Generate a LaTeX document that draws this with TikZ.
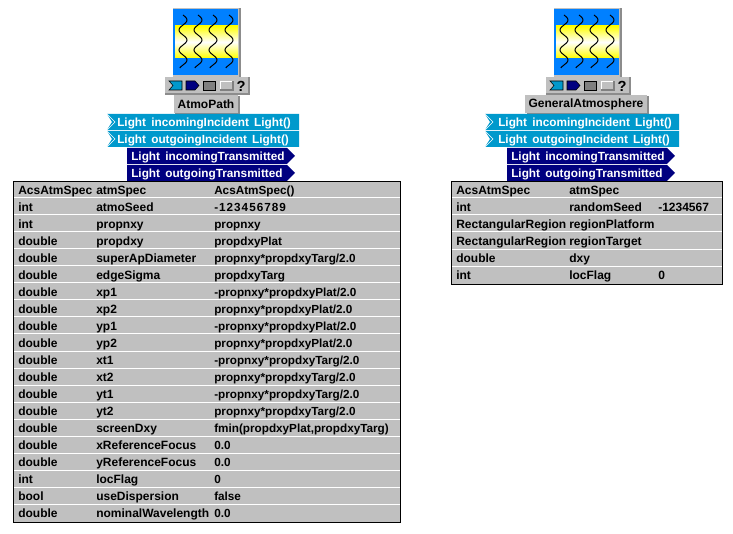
\documentclass[tikz,border=0pt]{standalone}
\usepackage{fontspec}
\setmainfont{Liberation Sans}
\usepackage{tikz}
\definecolor{portin}{RGB}{0,153,204}
\definecolor{portout}{RGB}{0,0,128}
\definecolor{panel}{RGB}{192,192,192}
\definecolor{shadow}{RGB}{140,140,140}
\definecolor{skyblue}{RGB}{0,128,255}
\newcommand{\gap}{\hspace{3.9pt}}
\begin{document}
\begin{tikzpicture}[x=0.75pt,y=-0.75pt]
		\tikzset{cell/.style={anchor=base west,inner sep=0pt,font=\bfseries\fontsize{9pt}{10pt}\selectfont}};
		\tikzset{valuecell/.style={anchor=base west,inner sep=0pt,font=\bfseries\fontsize{8.8pt}{10pt}\selectfont}};
		\tikzset{porttext/.style={anchor=base west,inner sep=0pt,text=white,font=\bfseries\fontsize{8.85pt}{10pt}\selectfont}};
		\tikzset{namebox/.style={fill=panel,inner sep=0pt,font=\bfseries\fontsize{9pt}{10pt}\selectfont}};
		\tikzset{rowline/.style={white,line width=0.75pt}};
		\tikzset{atmoicon/.pic={
			\fill[panel] (0,-1) rectangle (68,69);
			\fill[shadow] (66,-1) rectangle (68,69);
			\fill[skyblue] (0,0) rectangle (65,66);
			\shade[top color=yellow,bottom color=yellow,middle color=white] (2,17) rectangle (65,49);
			\foreach \i in {10,25,40,56} {
				\draw[black,line width=0.75pt] plot[domain=0:53,samples=60,smooth] ({\i+4*sin(\x*18)},{6+\x});
			}
			\fill[panel] (-8,68) rectangle (76,85);
			\fill[shadow] (-8,84) rectangle (76,86);
			\fill[shadow] (75,68) rectangle (77,86);
			\draw[black,fill=portin] (-4,72) -- (9,72) -- (9,81) -- (-4,81) -- (0,76.5) -- cycle;
			\draw[black,fill=portout] (13,72) -- (22,72) -- (26,76.5) -- (22,81) -- (13,81) -- cycle;
			\draw[black,fill=gray] (30,72) rectangle (42,81);
			\draw[white,fill=panel] (47,72) rectangle (60,81);
			\draw[gray,line width=1pt] (47,81) -- (60,81) -- (60,72);
			\node[namebox,fill=none,font=\bfseries\fontsize{11pt}{12pt}\selectfont] (help) at (68,77.5) {?};
		}};

		% left component
		\pic at (173,9) {atmoicon};
		\fill[shadow] (175,96) rectangle (240,114);
		\node[namebox,minimum width=48pt,minimum height=13.5pt] (pathname) at (206,104) {AtmoPath};

		\fill[portin] (107,114) -- (299,114) -- (299,130) -- (107,130) -- (112,122) -- cycle;
		\fill[portin] (107,131) -- (299,131) -- (299,147) -- (107,147) -- (112,139) -- cycle;
		\draw[white] (107,114) -- (115,122) -- (107,130);
		\draw[white] (107,131) -- (115,139) -- (107,147);
		\fill[portout] (127,148) -- (287,148) -- (295,156) -- (287,164) -- (127,164) -- cycle;
		\fill[portout] (127,165) -- (287,165) -- (295,173) -- (287,181) -- (127,181) -- cycle;
		\node[porttext] (pin1) at (117,127) {Light\gap incomingIncident\gap Light()};
		\node[porttext] (pin2) at (117,144) {Light\gap outgoingIncident\gap Light()};
		\node[porttext] (pout1) at (131,161) {Light\gap incomingTransmitted};
		\node[porttext] (pout2) at (131,178) {Light\gap outgoingTransmitted};

		\draw[black,fill=panel] (13.5,181.5) rectangle (400.5,522.5);
		\foreach \y in {198,215,232,249,266,283,300,317,334,352,369,386,403,420,437,454,471,488,505} {
			\draw[rowline] (14,\y) -- (400,\y);
		}
		\node[cell] (a1) at (18,195) {AcsAtmSpec};
		\node[cell] (b1) at (96,195) {atmSpec};
		\node[valuecell] (c1) at (214,195) {AcsAtmSpec()};
		\node[cell] (a2) at (18,212) {int};
		\node[cell] (b2) at (96,212) {atmoSeed};
		\node[valuecell] (c2) at (214,212) {\addfontfeature{LetterSpace=8.5}-123456789};
		\node[cell] (a3) at (18,229) {int};
		\node[cell] (b3) at (96,229) {propnxy};
		\node[valuecell] (c3) at (214,229) {propnxy};
		\node[cell] (a4) at (18,246) {double};
		\node[cell] (b4) at (96,246) {propdxy};
		\node[valuecell] (c4) at (214,246) {propdxyPlat};
		\node[cell] (a5) at (18,263) {double};
		\node[cell] (b5) at (96,263) {superApDiameter};
		\node[valuecell] (c5) at (214,263) {propnxy*propdxyTarg/2.0};
		\node[cell] (a6) at (18,280) {double};
		\node[cell] (b6) at (96,280) {edgeSigma};
		\node[valuecell] (c6) at (214,280) {propdxyTarg};
		\node[cell] (a7) at (18,297) {double};
		\node[cell] (b7) at (96,297) {xp1};
		\node[valuecell] (c7) at (214,297) {-propnxy*propdxyPlat/2.0};
		\node[cell] (a8) at (18,314) {double};
		\node[cell] (b8) at (96,314) {xp2};
		\node[valuecell] (c8) at (214,314) {propnxy*propdxyPlat/2.0};
		\node[cell] (a9) at (18,331) {double};
		\node[cell] (b9) at (96,331) {yp1};
		\node[valuecell] (c9) at (214,331) {-propnxy*propdxyPlat/2.0};
		\node[cell] (a10) at (18,348) {double};
		\node[cell] (b10) at (96,348) {yp2};
		\node[valuecell] (c10) at (214,348) {propnxy*propdxyPlat/2.0};
		\node[cell] (a11) at (18,365) {double};
		\node[cell] (b11) at (96,365) {xt1};
		\node[valuecell] (c11) at (214,365) {-propnxy*propdxyTarg/2.0};
		\node[cell] (a12) at (18,382) {double};
		\node[cell] (b12) at (96,382) {xt2};
		\node[valuecell] (c12) at (214,382) {propnxy*propdxyTarg/2.0};
		\node[cell] (a13) at (18,399) {double};
		\node[cell] (b13) at (96,399) {yt1};
		\node[valuecell] (c13) at (214,399) {-propnxy*propdxyTarg/2.0};
		\node[cell] (a14) at (18,416) {double};
		\node[cell] (b14) at (96,416) {yt2};
		\node[valuecell] (c14) at (214,416) {propnxy*propdxyTarg/2.0};
		\node[cell] (a15) at (18,433) {double};
		\node[cell] (b15) at (96,433) {screenDxy};
		\node[valuecell] (c15) at (214,433) {fmin(propdxyPlat,propdxyTarg)};
		\node[cell] (a16) at (18,450) {double};
		\node[cell] (b16) at (96,450) {xReferenceFocus};
		\node[valuecell] (c16) at (214,450) {0.0};
		\node[cell] (a17) at (18,467) {double};
		\node[cell] (b17) at (96,467) {yReferenceFocus};
		\node[valuecell] (c17) at (214,467) {0.0};
		\node[cell] (a18) at (18,484) {int};
		\node[cell] (b18) at (96,484) {locFlag};
		\node[valuecell] (c18) at (214,484) {0};
		\node[cell] (a19) at (18,501) {bool};
		\node[cell] (b19) at (96,501) {useDispersion};
		\node[valuecell] (c19) at (214,501) {false};
		\node[cell] (a20) at (18,518) {double};
		\node[cell] (b20) at (96,518) {nominalWavelength};
		\node[valuecell] (c20) at (214,518) {0.0};

		% right component
		\pic at (554,9) {atmoicon};
		\fill[shadow] (527,96) rectangle (649,114);
		\node[namebox,minimum width=91.5pt,minimum height=13.5pt] (genname) at (586,104) {GeneralAtmosphere};

		\fill[portin] (485,114) -- (679,114) -- (679,130) -- (485,130) -- (490,122) -- cycle;
		\fill[portin] (485,131) -- (679,131) -- (679,147) -- (485,147) -- (490,139) -- cycle;
		\draw[white] (485,114) -- (493,122) -- (485,130);
		\draw[white] (485,131) -- (493,139) -- (485,147);
		\fill[portout] (507,148) -- (667,148) -- (675,156) -- (667,164) -- (507,164) -- cycle;
		\fill[portout] (507,165) -- (667,165) -- (675,173) -- (667,181) -- (507,181) -- cycle;
		\node[porttext] (gin1) at (498,127) {Light\gap incomingIncident\gap Light()};
		\node[porttext] (gin2) at (498,144) {Light\gap outgoingIncident\gap Light()};
		\node[porttext] (gout1) at (511,161) {Light\gap incomingTransmitted};
		\node[porttext] (gout2) at (511,178) {Light\gap outgoingTransmitted};

		\draw[black,fill=panel] (451.5,181.5) rectangle (722.5,284.5);
		\foreach \y in {198,215,232,250,267} {
			\draw[rowline] (452,\y) -- (722,\y);
		}
		\node[cell] (d1) at (456,195) {AcsAtmSpec};
		\node[cell] (e1) at (569,195) {atmSpec};
		\node[cell] (d2) at (456,212) {int};
		\node[cell] (e2) at (569,212) {randomSeed};
		\node[cell] (f2) at (658,212) {-1234567};
		\node[cell] (d3) at (456,229) {RectangularRegion};
		\node[cell] (e3) at (569,229) {regionPlatform};
		\node[cell] (d4) at (456,246) {RectangularRegion};
		\node[cell] (e4) at (569,246) {regionTarget};
		\node[cell] (d5) at (456,263) {double};
		\node[cell] (e5) at (569,263) {dxy};
		\node[cell] (d6) at (456,280) {int};
		\node[cell] (e6) at (569,280) {locFlag};
		\node[cell] (f6) at (658,280) {0};

		\useasboundingbox (0,0) rectangle (733,534);
\end{tikzpicture}
\end{document}
